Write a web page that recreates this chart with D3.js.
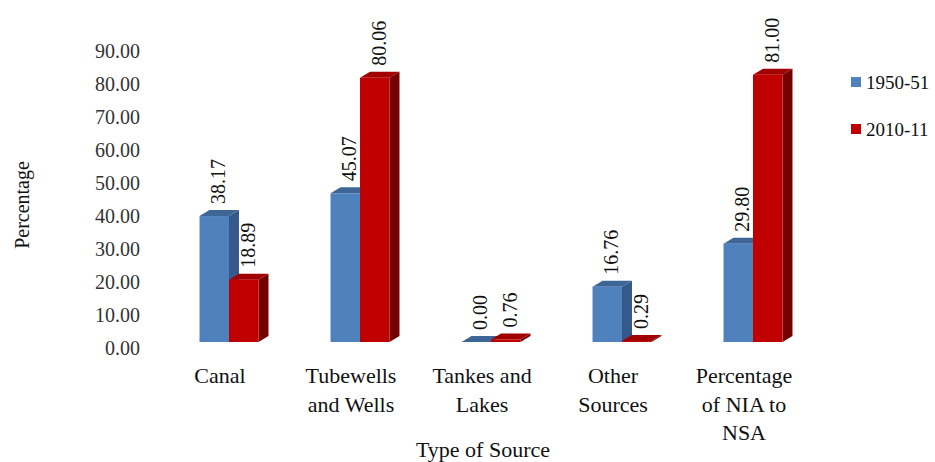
<!DOCTYPE html>
<html>
<head>
<meta charset="utf-8">
<script src="https://cdn.jsdelivr.net/npm/d3@7"></script>
<style>
  body { margin: 0; background: #fff; }
  text { font-family: "Liberation Serif", "Times New Roman", serif; }
</style>
</head>
<body>
<div id="chart"></div>
<script>
const categories = ['Canal', 'Tubewells and Wells', 'Tankes and Lakes', 'Other Sources', 'Percentage of NIA to NSA']
const categoryLines = [['Canal'], ['Tubewells', 'and Wells'], ['Tankes and', 'Lakes'], ['Other', 'Sources'], ['Percentage', 'of NIA to', 'NSA']]
const seriesNames = ['1950-51', '2010-11']
const values1950 = [38.17, 45.07, 0.00, 16.76, 29.80]
const values2010 = [18.89, 80.06, 0.76, 0.29, 81.00]
const yTicks = [0, 10, 20, 30, 40, 50, 60, 70, 80, 90]

const W = 935, H = 462
const depthX = 10, depthY = 6

// front, top, side colours per series
const colors = [
    { front: '#4F81BD', top: '#3D6596', side: '#35598A' },
    { front: '#C00000', top: '#A20000', side: '#740000' }
]

const svg = d3.select('#chart').append('svg')
    .attr('width', W)
    .attr('height', H)

const yScale = d3.scaleLinear().domain([0, 90]).range([342, 45])
const x0 = d3.scaleBand().domain(categories).range([163.5, 818.5]).paddingInner(0.55).paddingOuter(0.275)
const x1 = d3.scaleBand().domain(seriesNames).range([0, x0.bandwidth()])

// y axis labels
svg.append('g')
    .attr('transform', 'translate(140,6.5)')
    .call(d3.axisLeft(yScale).tickValues(yTicks).tickFormat(d3.format('.2f')).tickSize(0).tickPadding(0))
    .call(g => g.select('.domain').remove())
    .selectAll('text')
    .attr('font-family', '"Liberation Serif", serif')
    .attr('font-size', '20px')
    .attr('fill', '#333')

// x axis labels
const xAxis = svg.append('g')
    .attr('transform', 'translate(-9,0)')
xAxis.call(d3.axisBottom(x0).tickSize(0).tickFormat(''))
    .call(g => g.select('.domain').remove())
xAxis.selectAll('.tick').each(function (d, i) {
    const t = d3.select(this).append('text')
        .attr('text-anchor', 'middle')
        .attr('font-size', '22px')
        .attr('fill', '#111')
    categoryLines[i].forEach((line, j) => {
        t.append('tspan').attr('x', 0).attr('y', 383 + j * 28.5).text(line)
    })
})

const rows = categories.map((c, i) => ({ cat: c, vals: [values1950[i], values2010[i]] }))

const groups = svg.selectAll('.grp')
    .data(rows)
    .enter()
    .append('g')
    .attr('transform', d => 'translate(' + x0(d.cat) + ',0)')

seriesNames.forEach((s, si) => {
    const bw = x1.bandwidth()
    groups.each(function (d) {
        const g = d3.select(this)
        const v = d.vals[si]
        const xl = x1(s), xr = xl + bw
        const yt = yScale(v), yb = yScale(0)
        // side face
        g.append('path')
            .attr('d', `M${xr},${yb}L${xr + depthX},${yb - depthY}L${xr + depthX},${yt - depthY}L${xr},${yt}Z`)
            .attr('fill', colors[si].side)
        // top face
        g.append('path')
            .attr('d', `M${xl},${yt}L${xl + depthX},${yt - depthY}L${xr + depthX},${yt - depthY}L${xr},${yt}Z`)
            .attr('fill', colors[si].top)
        // front face
        g.append('rect')
            .attr('x', xl)
            .attr('y', yt)
            .attr('width', bw)
            .attr('height', yb - yt)
            .attr('fill', colors[si].front)
        // value label
        const lx = xl + bw / 2 + 4, ly = yt - 12
        g.append('text')
            .attr('transform', `translate(${lx},${ly}) rotate(-90)`)
            .attr('dy', '0.35em')
            .attr('font-size', '20px')
            .attr('fill', '#111')
            .text(d3.format('.2f')(v))
    })
})

// axis titles
svg.append('text')
    .attr('transform', 'translate(22,205) rotate(-90)')
    .attr('text-anchor', 'middle')
    .attr('dy', '0.35em')
    .attr('font-size', '20px')
    .attr('fill', '#111')
    .text('Percentage')

svg.append('text')
    .attr('x', 483)
    .attr('y', 457)
    .attr('text-anchor', 'middle')
    .attr('font-size', '22px')
    .attr('fill', '#111')
    .text('Type of Source')

// legend
const legend = svg.selectAll('.leg')
    .data(seriesNames)
    .enter()
    .append('g')
    .attr('transform', (d, i) => 'translate(851,' + (77 + i * 47) + ')')
legend.append('rect')
    .attr('width', 10)
    .attr('height', 10)
    .attr('fill', (d, i) => colors[i].front)
legend.append('text')
    .attr('x', 15)
    .attr('y', 5)
    .attr('dy', '0.35em')
    .attr('font-size', '19px')
    .attr('fill', '#111')
    .text(d => d)
</script>
</body>
</html>
